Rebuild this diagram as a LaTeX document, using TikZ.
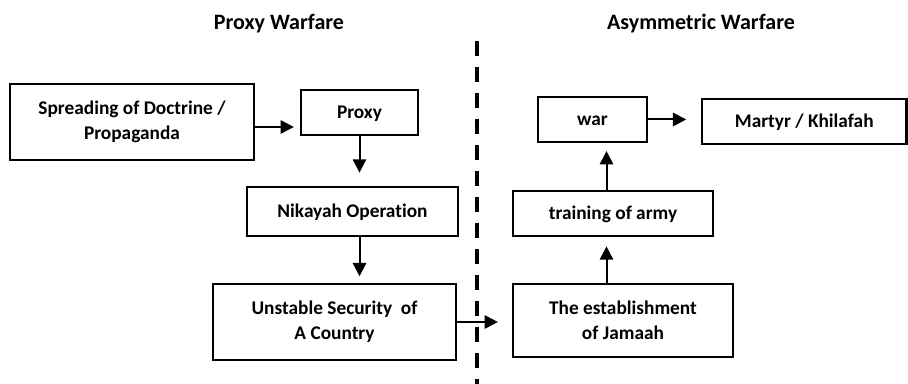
\documentclass[tikz,border=0pt]{standalone}
\usepackage{fontspec}
\setmainfont{Carlito}[Ligatures=NoCommon]
\usetikzlibrary{arrows.meta,calc}
\begin{document}
\begin{tikzpicture}[x=0.75pt,y=-0.75pt,
  box/.style={draw,line width=1.6pt,align=center,inner sep=0pt,
    font=\bfseries\fontsize{14.5}{18.75}\selectfont},
  onebox/.style={box,text height=9.6pt,text depth=0pt},
  ttl/.style={font=\bfseries\fontsize{16.5}{20}\selectfont},
  arr/.style={line width=1.5pt,-{Triangle[length=10pt,width=10pt]}},
  sep/.style={line width=2.6pt,dash pattern=on 11.25pt off 8.25pt}]
\useasboundingbox (0,0) rectangle (908,384);
\node[ttl] (t1) at (279,24) {Proxy Warfare};
\node[ttl] (t2) at (701,24) {Asymmetric Warfare};
\coordinate (dtop) at (477,41);
\coordinate (dbot) at (477,390);
\draw[sep] (dtop) -- (dbot);
\node[box,minimum width=183pt,minimum height=57pt] (spread) at (132,122) {Spreading of Doctrine /\\Propaganda};
\node[onebox,minimum width=87.75pt,minimum height=33.75pt] (proxy) at (359.5,112.5) {Proxy};
\node[onebox,minimum width=158.25pt,minimum height=36.75pt] (nik) at (352.5,211.5) {Nikayah Operation};
\node[box,minimum width=182.25pt,minimum height=57pt] (unst) at (334.5,322) {Unstable Security\ \ of\\A Country};
\node[box,minimum width=165pt,minimum height=54.75pt] (est) at (623,320.5) {The establishment\\of Jamaah};
\node[onebox,minimum width=150pt,minimum height=33.75pt] (train) at (613,213.5) {training of army};
\node[onebox,minimum width=81.75pt,minimum height=33.75pt] (war) at (592.5,119.5) {war};
\node[onebox,minimum width=153.4pt,minimum height=33.75pt] (mart) at (804.25,121.5) {Martyr / Khilafah};
\coordinate (col) at (606.5,0);
\draw[arr,shorten >=4.5pt] ([yshift=-3.75pt]spread.east) -- ([yshift=-3.75pt]spread.east -| proxy.west);
\draw[arr,shorten >=10pt] (proxy.south) -- (proxy.south |- nik.north);
\draw[arr,shorten >=5pt] (nik.south -| proxy.south) -- (unst.north -| proxy.south);
\draw[arr,shorten >=10.5pt] (unst.east) -- (unst.east -| est.west);
\draw[arr,shorten >=7pt] (est.north -| col) -- (train.south -| col);
\draw[arr,shorten >=6pt] (train.north -| col) -- (war.south -| col);
\draw[arr,shorten >=11pt] (war.east) -- (war.east -| mart.west);
\end{tikzpicture}
\end{document}
